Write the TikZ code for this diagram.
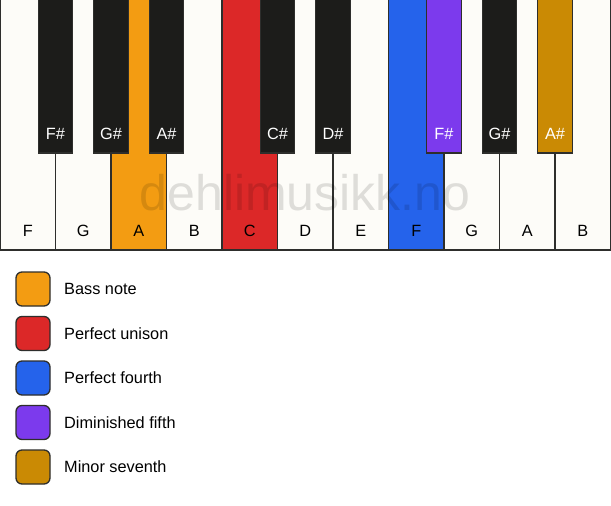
\documentclass[tikz,border=0pt]{standalone}
\usepackage{fontspec}
\setmainfont{Liberation Sans}
\usepackage{tikz}
\usetikzlibrary{positioning}
\definecolor{keywhite}{HTML}{FDFCF8}
\definecolor{keyblack}{HTML}{1C1C1A}
\definecolor{keyedge}{HTML}{2E2E2C}
\definecolor{bassnote}{HTML}{F39C12}
\definecolor{unison}{HTML}{DC2828}
\definecolor{fourth}{HTML}{2563EB}
\definecolor{dimfifth}{HTML}{7C3AED}
\definecolor{minseventh}{HTML}{CA8A04}
\tikzset{
	whitekey/.style={draw=keyedge, line width=1.3pt, fill=keywhite, minimum width=55.5pt, minimum height=253pt, inner sep=0pt, outer sep=0pt},
	blackkey/.style={draw=keyedge, line width=1.3pt, fill=keyblack, minimum width=34.5pt, minimum height=156pt, anchor=north, inner sep=0pt, outer sep=0pt},
	whitelabel/.style={anchor=base, inner sep=0pt, font=\fontsize{16.3}{18}\selectfont},
	blacklabel/.style={whitelabel, text=white},
	legendbox/.style={draw=keyedge, line width=1.3pt, rounded corners=6pt, minimum size=34pt, inner sep=0pt, outer sep=0pt},
	legendtext/.style={inner sep=0pt, font=\fontsize{16.3}{18}\selectfont},
	watermark/.style={anchor=base, inner sep=0pt, text=black, opacity=0.12, font=\fontsize{50}{52}\selectfont}
}
\begin{document}
\begin{tikzpicture}[x=1pt, y=1pt]
	\useasboundingbox[fill=white] (0,0) rectangle (611,-506);
	
	\node[whitekey, anchor=north west] (kF) at (0,3) {};
	\node[whitekey, right=0pt of kF] (kG) {};
	\node[whitekey, fill=bassnote, right=0pt of kG] (kA) {};
	\node[whitekey, right=0pt of kA] (kB) {};
	\node[whitekey, fill=unison, right=0pt of kB] (kC) {};
	\node[whitekey, right=0pt of kC] (kD) {};
	\node[whitekey, right=0pt of kD] (kE) {};
	\node[whitekey, fill=fourth, right=0pt of kE] (kFhi) {};
	\node[whitekey, right=0pt of kFhi] (kGhi) {};
	\node[whitekey, right=0pt of kGhi] (kAhi) {};
	\node[whitekey, right=0pt of kAhi] (kBhi) {};
	
	\node[watermark] (wm) at (305,-210) {dehlimusikk.no};
	
	\node[blackkey] (kFs) at (kF.north east) {};
	\node[blackkey] (kGs) at (kG.north east) {};
	\node[blackkey] (kAs) at (kA.north east) {};
	\node[blackkey] (kCs) at (kC.north east) {};
	\node[blackkey] (kDs) at (kD.north east) {};
	\node[blackkey, fill=dimfifth] (kFshi) at (kFhi.north east) {};
	\node[blackkey] (kGshi) at (kGhi.north east) {};
	\node[blackkey, fill=minseventh] (kAshi) at (kAhi.north east) {};
	
	\node[whitelabel] (tF) at ([yshift=13.5pt]kF.south) {F};
	\node[whitelabel] (tG) at ([yshift=13.5pt]kG.south) {G};
	\node[whitelabel] (tA) at ([yshift=13.5pt]kA.south) {A};
	\node[whitelabel] (tB) at ([yshift=13.5pt]kB.south) {B};
	\node[whitelabel] (tC) at ([yshift=13.5pt]kC.south) {C};
	\node[whitelabel] (tD) at ([yshift=13.5pt]kD.south) {D};
	\node[whitelabel] (tE) at ([yshift=13.5pt]kE.south) {E};
	\node[whitelabel] (tFhi) at ([yshift=13.5pt]kFhi.south) {F};
	\node[whitelabel] (tGhi) at ([yshift=13.5pt]kGhi.south) {G};
	\node[whitelabel] (tAhi) at ([yshift=13.5pt]kAhi.south) {A};
	\node[whitelabel] (tBhi) at ([yshift=13.5pt]kBhi.south) {B};
	
	\node[blacklabel] (tFs) at ([yshift=14pt]kFs.south) {F\#};
	\node[blacklabel] (tGs) at ([yshift=14pt]kGs.south) {G\#};
	\node[blacklabel] (tAs) at ([yshift=14pt]kAs.south) {A\#};
	\node[blacklabel] (tCs) at ([yshift=14pt]kCs.south) {C\#};
	\node[blacklabel] (tDs) at ([yshift=14pt]kDs.south) {D\#};
	\node[blacklabel] (tFshi) at ([yshift=14pt]kFshi.south) {F\#};
	\node[blacklabel] (tGshi) at ([yshift=14pt]kGshi.south) {G\#};
	\node[blacklabel] (tAshi) at ([yshift=14pt]kAshi.south) {A\#};
	
	\node[legendbox, fill=bassnote] (lgBass) at (33,-289) {};
	\node[legendtext, right=14pt of lgBass] (ltBass) {Bass note};
	\node[legendbox, fill=unison, below=10.5pt of lgBass] (lgUnison) {};
	\node[legendtext, right=14pt of lgUnison] (ltUnison) {Perfect unison};
	\node[legendbox, fill=fourth, below=10.5pt of lgUnison] (lgFourth) {};
	\node[legendtext, right=14pt of lgFourth] (ltFourth) {Perfect fourth};
	\node[legendbox, fill=dimfifth, below=10.5pt of lgFourth] (lgFifth) {};
	\node[legendtext, right=14pt of lgFifth] (ltFifth) {Diminished fifth};
	\node[legendbox, fill=minseventh, below=10.5pt of lgFifth] (lgSeventh) {};
	\node[legendtext, right=14pt of lgSeventh] (ltSeventh) {Minor seventh};
\end{tikzpicture}
\end{document}
